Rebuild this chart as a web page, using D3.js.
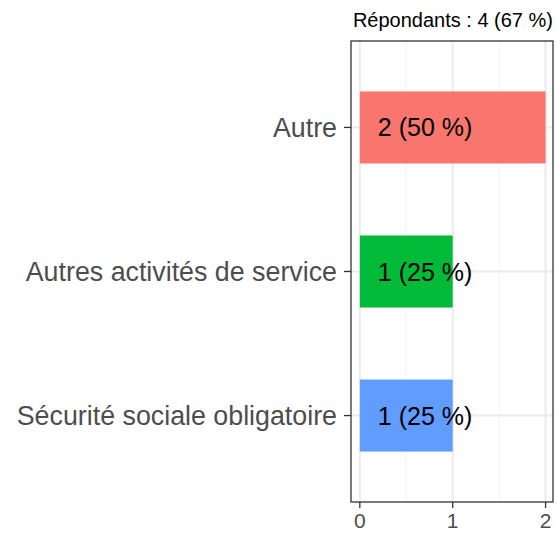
<!DOCTYPE html>
<html>
<head>
<meta charset="utf-8">
<script src="https://cdn.jsdelivr.net/npm/d3@7"></script>
<style>
  body { margin: 0; background: #fff; }
  text { font-family: "Liberation Sans", Arial, sans-serif; }
</style>
</head>
<body>
<svg id="chart" width="557" height="533"></svg>
<script>
const categories = ["Autre", "Autres activités de service", "Sécurité sociale obligatoire"];
const counts = [2, 1, 1];
const labels = ["2 (50 %)", "1 (25 %)", "1 (25 %)"];
const colors = ["#F8766D", "#00BA38", "#619CFF"];
const xTicks = [0, 1, 2];
const xMinor = [0.5, 1.5];
const title = "Répondants : 4 (67 %)";

const svg = d3.select("#chart");
const panel = { left: 351, right: 553, top: 41, bottom: 502 };

// ggplot-like expansion around 0..2 and the three bands
const x = d3.scaleLinear().domain([-0.095, 2.08]).range([panel.left, panel.right]);
const y = d3.scaleLinear().domain([0.4, 3.6]).range([panel.top, panel.bottom]);

const g = svg.append("g");

// minor grid
g.selectAll(".minor").data(xMinor).enter().append("line")
  .attr("x1", d => x(d)).attr("x2", d => x(d))
  .attr("y1", panel.top).attr("y2", panel.bottom)
  .attr("stroke", "#F3F3F3").attr("stroke-width", 1);

// major grid
g.selectAll(".majorx").data(xTicks).enter().append("line")
  .attr("x1", d => x(d)).attr("x2", d => x(d))
  .attr("y1", panel.top).attr("y2", panel.bottom)
  .attr("stroke", "#EBEBEB").attr("stroke-width", 2);

g.selectAll(".majory").data(categories).enter().append("line")
  .attr("x1", panel.left).attr("x2", panel.right)
  .attr("y1", (d, i) => y(i + 1)).attr("y2", (d, i) => y(i + 1))
  .attr("stroke", "#EBEBEB").attr("stroke-width", 2);

// bars
g.selectAll(".bar").data(counts).enter().append("rect")
  .attr("x", x(0))
  .attr("y", (d, i) => y(i + 1 - 0.25))
  .attr("width", d => x(d) - x(0))
  .attr("height", y(1.25) - y(0.75))
  .attr("fill", (d, i) => colors[i]);

// bar labels
g.selectAll(".lab").data(labels).enter().append("text")
  .attr("x", x(0) + 18)
  .attr("y", (d, i) => y(i + 1))
  .attr("dy", "0.36em")
  .attr("font-size", 25)
  .attr("fill", "#000")
  .text(d => d);

// panel border
svg.append("rect")
  .attr("x", panel.left).attr("y", panel.top)
  .attr("width", panel.right - panel.left).attr("height", panel.bottom - panel.top)
  .attr("fill", "none").attr("stroke", "#333333").attr("stroke-width", 1.3);

// y axis ticks and labels
categories.forEach((c, i) => {
  svg.append("line")
    .attr("x1", panel.left - 7).attr("x2", panel.left)
    .attr("y1", y(i + 1)).attr("y2", y(i + 1))
    .attr("stroke", "#333333").attr("stroke-width", 1.3);
  svg.append("text")
    .attr("x", panel.left - 14).attr("y", y(i + 1))
    .attr("dy", "0.36em")
    .attr("text-anchor", "end")
    .attr("font-size", 26.8)
    .attr("fill", "#4D4D4D")
    .text(c);
});

// x axis
xTicks.forEach(t => {
  svg.append("line")
    .attr("x1", x(t)).attr("x2", x(t))
    .attr("y1", panel.bottom).attr("y2", panel.bottom + 6)
    .attr("stroke", "#333333").attr("stroke-width", 1.3);
  svg.append("text")
    .attr("x", x(t)).attr("y", 528)
    .attr("text-anchor", "middle")
    .attr("font-size", 21)
    .attr("fill", "#4D4D4D")
    .text(t);
});

// title
svg.append("text")
  .attr("x", panel.right).attr("y", 27)
  .attr("text-anchor", "end")
  .attr("font-size", 20)
  .attr("fill", "#000")
  .text(title);
</script>
</body>
</html>
